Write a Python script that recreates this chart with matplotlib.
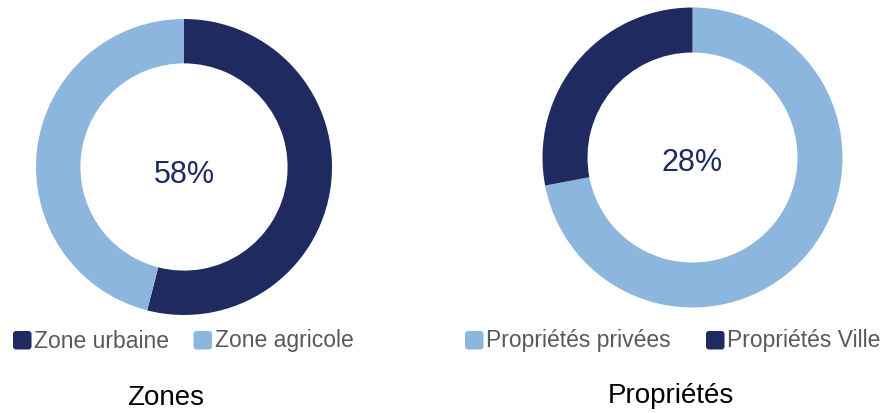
import matplotlib.pyplot as plt
from matplotlib.patches import FancyBboxPatch
from matplotlib.transforms import IdentityTransform

plt.rcParams['font.family'] = ['Liberation Sans', 'DejaVu Sans']

DARK = '#1f2b60'
LIGHT = '#8db6de'

# left donut: Zones
zones_labels = ['Zone urbaine', 'Zone agricole']
zones_values = [54, 46]
zones_center = '58%'

# right donut: Propriétés
props_labels = ['Propriétés privées', 'Propriétés Ville']
props_values = [72, 28]
props_center = '28%'

W, H = 888, 413
fig = plt.figure(figsize=(W / 100, H / 100), dpi=100)


def donut(left, top, size, values, colors, label, label_dy):
    ax = fig.add_axes([left / W, 1 - (top + size) / H, size / W, size / H])
    ax.pie(values, colors=colors, startangle=90, counterclock=False,
           wedgeprops=dict(width=0.30, linewidth=0))
    ax.set_xlim(-1, 1)
    ax.set_ylim(-1, 1)
    ax.text(0, label_dy, label, ha='center', va='baseline',
            fontsize=22, color=DARK)
    return ax


donut(36, 19, 296, zones_values, [DARK, LIGHT], zones_center, -0.106)
donut(542.5, 7.5, 300, props_values, [LIGHT, DARK], props_center, -0.088)


def legend_item(x, y, color, text):
    # x, y: top-left of the square in image pixels
    box = FancyBboxPatch((x, H - y - 18.5), 18.5, 18.5,
                         boxstyle='round,pad=0,rounding_size=3',
                         transform=IdentityTransform(), facecolor=color,
                         edgecolor='none')
    fig.patches.append(box)
    fig.text((x + 21) / W, 1 - 347.5 / H, text, ha='left', va='baseline',
             fontsize=16.5, color='#595959')


legend_item(13, 331, DARK, zones_labels[0])
legend_item(193.5, 331, LIGHT, zones_labels[1])
legend_item(465, 331, LIGHT, props_labels[0])
legend_item(706, 331, DARK, props_labels[1])

fig.text(165.5 / W, 1 - 405 / H, 'Zones', ha='center', va='baseline',
         fontsize=20, color='black')
fig.text(671 / W, 1 - 403 / H, 'Propriétés', ha='center', va='baseline',
         fontsize=20, color='black')

fig.savefig('out.png', dpi=100, facecolor='white')
